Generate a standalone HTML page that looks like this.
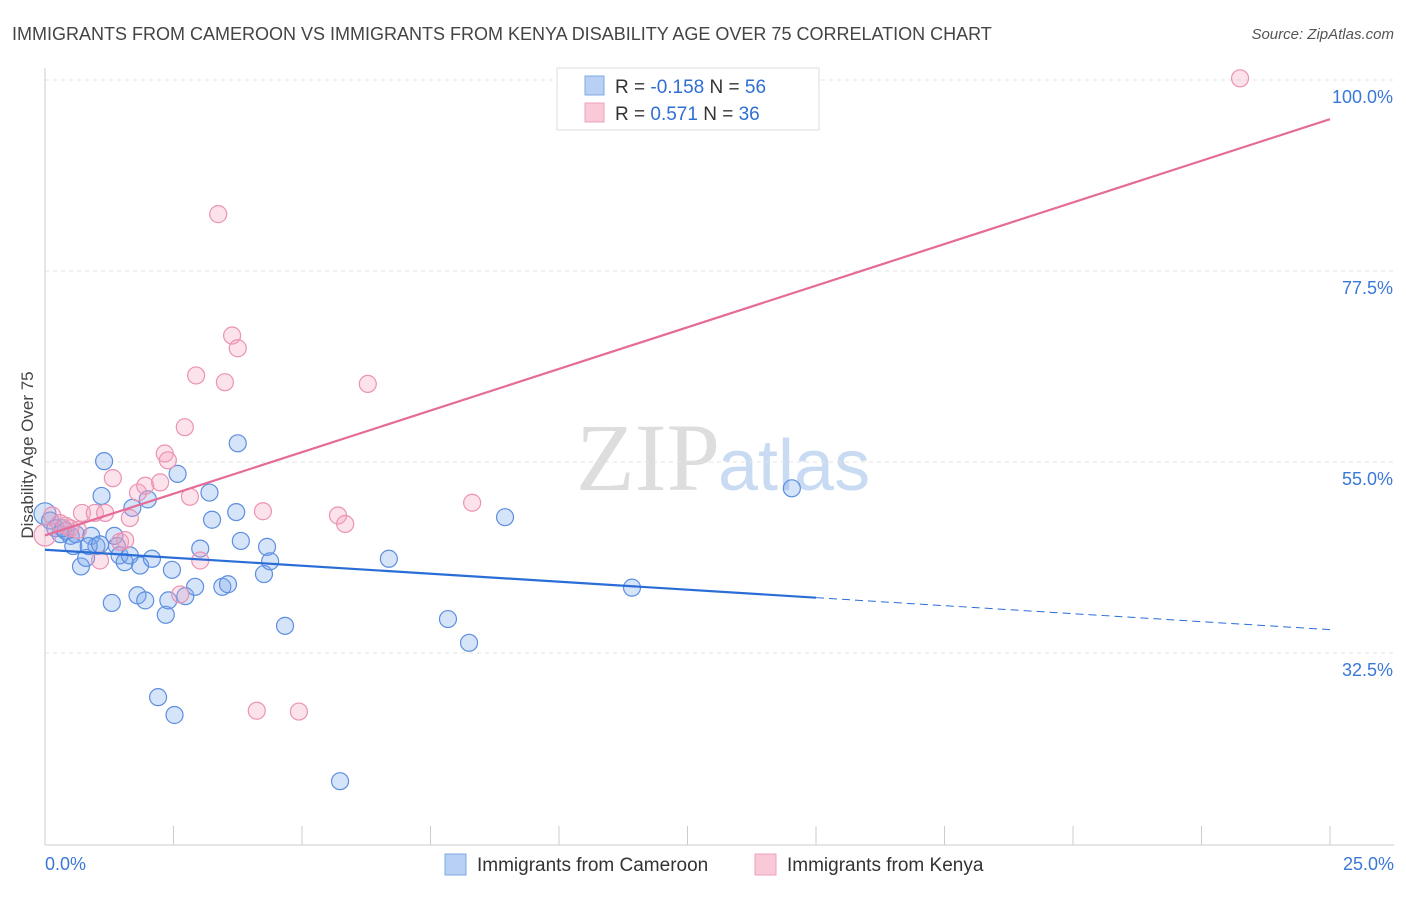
<!DOCTYPE html>
<html><head><meta charset="utf-8"><style>
body{margin:0;background:#fff;font-family:"Liberation Sans",sans-serif;}
</style></head><body>
<svg id="chart" width="1406" height="892" xmlns="http://www.w3.org/2000/svg" style="font-family:'Liberation Sans',sans-serif">
<text x="12" y="40" font-size="18" fill="#444">IMMIGRANTS FROM CAMEROON VS IMMIGRANTS FROM KENYA DISABILITY AGE OVER 75 CORRELATION CHART</text>
<text x="1394" y="39" font-size="15" fill="#555" text-anchor="end" font-style="italic">Source: ZipAtlas.com</text>
<text x="720" y="490" font-size="96" fill="#ddd" text-anchor="end" font-family="Liberation Serif">ZIP</text>
<text x="718" y="490" font-size="72" fill="#c9dbf2">atlas</text>
<text transform="translate(33,455) rotate(-90)" font-size="17" fill="#444" text-anchor="middle">Disability Age Over 75</text>
<g id="grid"></g><g id="axes"></g><g id="marks"></g>
<g>
<rect x="557" y="68" width="262" height="62" fill="#fff" stroke="#ddd"/>
<rect x="585" y="76" width="19" height="19" fill="#b9d0f5" stroke="#7fa8e6"/>
<rect x="585" y="103" width="19" height="19" fill="#f9c9d8" stroke="#eea0ba"/>
<text x="615" y="93" font-size="19" fill="#333">R = <tspan fill="#2f6fd4">-0.158</tspan>   N = <tspan fill="#2f6fd4">56</tspan></text>
<text x="615" y="120" font-size="19" fill="#333">R =   <tspan fill="#2f6fd4">0.571</tspan>   N = <tspan fill="#2f6fd4">36</tspan></text>
</g>
<g>
<rect x="445" y="854" width="21" height="21" fill="#b9d0f5" stroke="#7fa8e6"/>
<text x="477" y="871" font-size="19" fill="#333">Immigrants from Cameroon</text>
<rect x="755" y="854" width="21" height="21" fill="#f9c9d8" stroke="#eea0ba"/>
<text x="787" y="871" font-size="19" fill="#333">Immigrants from Kenya</text>
</g>
</svg>
<script>
const yTicks=[100,77.5,55,32.5];
const xTickLabels=["0.0%","25.0%"];
const blueX=[0,0.1,0.2,0.3,0.4,0.5,0.6,0.55,0.7,0.8,0.9,1.0,1.1,1.15,1.3,1.35,1.4,1.45,1.55,1.65,1.7,1.8,1.85,1.95,2.0,2.08,2.2,2.35,2.4,2.47,2.52,2.58,2.73,2.92,3.02,3.2,3.25,3.45,3.56,3.72,3.75,3.81,4.26,4.32,4.38,4.67,5.74,6.69,7.84,8.25,8.95,11.42,14.53,0.85,0.35,1.07];
const blueY=[48.9,48.1,47.2,46.5,46.9,46.3,46.5,45.1,42.7,43.7,46.3,45.1,51.0,55.1,38.4,46.3,45.1,44.0,43.2,44.0,49.6,39.3,42.8,38.7,50.6,43.6,27.3,37.0,38.7,42.3,25.2,53.6,39.2,40.3,44.8,51.4,48.2,40.3,40.6,49.1,57.2,45.7,41.8,45.0,43.3,35.7,17.4,43.6,36.5,33.7,48.5,40.2,51.9,45.1,47.2,45.3];
const pinkX=[0,0.14,0.29,0.49,0.64,0.72,0.97,1.07,1.17,1.32,1.46,1.56,1.65,1.81,1.95,2.24,2.33,2.39,2.63,2.72,2.82,2.94,3.02,3.37,3.5,3.64,3.75,4.12,4.24,4.94,5.7,5.84,6.28,8.31,23.25,0.4];
const pinkY=[46.4,48.7,47.8,47.2,47.0,49.0,49.0,43.4,49.0,53.1,45.6,45.8,48.4,51.4,52.2,52.6,56.0,55.2,39.4,59.1,50.9,65.2,43.4,84.2,64.4,69.9,68.4,25.7,49.2,25.6,48.7,47.7,64.2,50.2,100.2,47.5];
const NS='http://www.w3.org/2000/svg';
function sx(v){return 45+v*(1285/25);}
function sy(v){return 80+(100-v)*8.489;}
function mk(t,a,p){const e=document.createElementNS(NS,t);for(const k in a)e.setAttribute(k,a[k]);p.appendChild(e);return e;}
const grid=document.getElementById('grid'),axes=document.getElementById('axes'),marks=document.getElementById('marks');
yTicks.forEach(v=>{
 const l=mk('line',{x1:45,x2:1394,y1:sy(v),y2:sy(v),stroke:'#e3e3e3','stroke-dasharray':'4,4'},grid);
 
 
 const t=mk('text',{x:1393,y:sy(v)+23,'font-size':18,fill:'#3a78d8','text-anchor':'end'},axes);
 t.textContent=v.toFixed(1)+'%';
 
 
});
const ax=mk('line',{x1:45,x2:1394,y1:845,y2:845,stroke:'#ccc'},axes);


const ay=mk('line',{x1:45,x2:45,y1:68,y2:845,stroke:'#ccc'},axes);


for(let i=0;i<=10;i++){const tk=mk('line',{x1:sx(i*2.5),x2:sx(i*2.5),y1:826,y2:845,stroke:'#ccc'},axes);
 
 }
const xl0=mk('text',{x:45,y:870,'font-size':18,fill:'#3a78d8'},axes);xl0.textContent=xTickLabels[0];


const xl1=mk('text',{x:1394,y:870,'font-size':18,fill:'#3a78d8','text-anchor':'end'},axes);xl1.textContent=xTickLabels[1];


function draw(xs,ys,fill,stroke,name){xs.forEach((x,i)=>{const c=mk('circle',{cx:sx(x),cy:sy(ys[i]),r:i==0?11:8.5,fill:fill,stroke:stroke,'stroke-width':1.2},marks);
 
 });}
draw(blueX,blueY,'rgba(120,165,235,0.3)','#5c8fe0','cameroon-point');
draw(pinkX,pinkY,'rgba(245,160,190,0.3)','#ea93b2','kenya-point');
function fit(xs,ys){const n=xs.length;let mx=0,my=0;xs.forEach((x,i)=>{mx+=x;my+=ys[i];});mx/=n;my/=n;let sxy=0,sxx=0;xs.forEach((x,i)=>{sxy+=(x-mx)*(ys[i]-my);sxx+=(x-mx)*(x-mx);});const b=sxy/sxx;return [my-b*mx,b];}
const bf=fit(blueX,blueY),pf=fit(pinkX,pinkY);
const bl=mk('line',{x1:sx(0),y1:sy(bf[0]),x2:sx(15),y2:sy(bf[0]+bf[1]*15),stroke:'#2a6dd6','stroke-width':2.2},marks);


const bd=mk('line',{x1:sx(15),y1:sy(bf[0]+bf[1]*15),x2:sx(25),y2:sy(bf[0]+bf[1]*25),stroke:'#2a6dd6','stroke-width':1,'stroke-dasharray':'8,5'},marks);


const pl=mk('line',{x1:sx(0),y1:sy(pf[0]),x2:sx(25),y2:sy(pf[0]+pf[1]*25),stroke:'#e56b98','stroke-width':2.2},marks);


</script>
</body></html>
